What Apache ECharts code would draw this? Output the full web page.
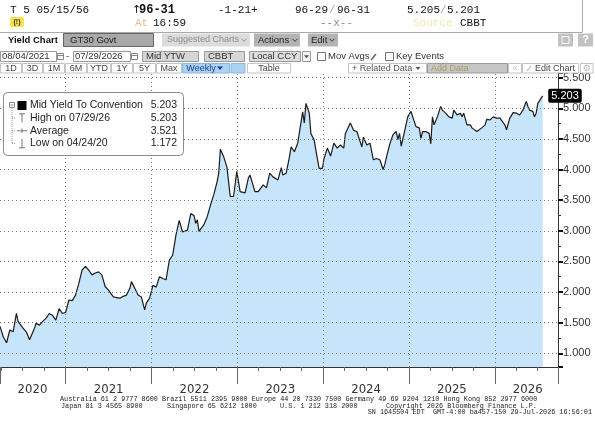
<!DOCTYPE html>
<html><head><meta charset="utf-8">
<script src="https://cdn.jsdelivr.net/npm/echarts/dist/echarts.min.js"></script>
<style>html,body{margin:0;padding:0;background:#fff}#c{width:595px;height:428px}</style>
</head><body><div id="c"></div>
<script>
// ---------- data ----------
const startDate = '2020-03-27';   // first weekly observation
const axisEndDate = '2026-09-27';  // right end of the time axis
const weekIdx = [0,2,4,6,8,10,11,14,16,18,19,21,22,24,26,28,30,32,34,36,38,40,42,44,46,48,50,52,54,56,58,60,62,64,66,69,71,73,75,77,79,80,82,84,86,88,89,91,93,95,97,99,101,103,105,107,109,111,114,116,118,119,120,121,124,126,128,130,132,133,134,136,137,138,140,142,144,146,147,149,151,152,153,155,157,158,160,162,164,166,169,171,172,174,176,177,179,181,184,185,186,188,189,191,192,194,196,197,199,201,203,205,207,209,210,213,215,217,218,220,221,223,225,227,229,231,233,234,235,237,239,241,242,243,244,245,246,248,250,251,253,255,256,257,259,261,262,263,264,266,268,269,271,273,275,276,278,280,281,282,284,286,287,290,291,293,295,296,298,300,302,304,305,307,308,310,312,314,316,318,320,321,322,324,325,326,327,328,330];
const yieldVals = [1.44,1.27,1.172,1.38,1.35,1.65,1.52,1.41,1.35,1.22,1.25,1.41,1.49,1.46,1.52,1.57,1.65,1.62,1.54,1.73,1.65,1.67,1.87,1.86,1.95,2.14,2.36,2.42,2.36,2.28,2.31,2.33,2.28,2.09,2.03,1.92,1.91,1.90,1.93,1.95,2.06,2.17,2.06,1.95,1.92,1.71,1.82,1.90,2.11,2.08,2.25,2.22,2.20,2.52,2.60,2.93,3.17,2.98,3.01,3.28,3.25,3.12,3.18,2.99,3.10,3.23,3.42,3.59,3.80,3.94,4.33,4.21,4.24,4.04,3.56,3.56,3.97,3.64,3.64,3.62,3.86,3.91,3.88,3.64,3.64,3.62,3.75,3.70,3.94,3.88,3.83,4.03,3.91,3.94,4.21,4.37,4.29,4.43,4.94,4.76,5.08,4.92,4.59,4.48,4.32,4.02,4.02,4.18,4.35,4.22,4.43,4.35,4.40,4.35,4.59,4.76,4.64,4.62,4.64,4.37,4.53,4.40,4.43,4.16,4.18,4.16,4.00,4.08,4.20,4.41,4.57,4.62,4.49,4.59,4.38,4.35,4.62,4.86,4.95,4.86,4.70,4.68,4.51,4.62,4.62,4.59,4.42,4.86,4.73,4.86,5.03,4.97,4.92,4.86,4.84,4.97,4.89,4.92,4.86,4.92,4.73,4.73,4.68,4.62,4.62,4.68,4.73,4.82,4.81,4.86,4.84,4.84,4.86,4.73,4.65,4.84,4.93,4.92,4.89,4.97,5.11,5.03,4.97,4.95,4.86,4.92,5.08,5.08,5.203];
const yearLabels = ['2020','2021','2022','2023','2024','2025','2026'];
const yearGrid = [2021,2022,2023,2024,2025,2026];
const yTicks = [1.0,1.5,2.0,2.5,3.0,3.5,4.0,4.5,5.0,5.5];
const yMin = 0.776, yMax = 5.576;
const statLabels = ['Mid Yield To Convention','High on 07/29/26','Average','Low on 04/24/20'];
const statValues = ['5.203','5.203','3.521','1.172'];
const lastLabel = '5.203';

// ---------- helpers ----------
function toYear(d){const y=d.getUTCFullYear();const s=Date.UTC(y,0,1),e=Date.UTC(y+1,0,1);return y+(d.getTime()-s)/(e-s);}
function parseD(s){const p=s.split('-').map(Number);return new Date(Date.UTC(p[0],p[1]-1,p[2]));}
const t0 = parseD(startDate).getTime();
const seriesData = weekIdx.map((w,i)=>[toYear(new Date(t0+w*7*864e5)), yieldVals[i]]);
const xMin = toYear(parseD(startDate)), xMax = toYear(parseD(axisEndDate));

const SANS='"Liberation Sans", Arial, sans-serif';
const MONO='"Liberation Mono", "DejaVu Sans Mono", monospace';
const G=[];
function rect(x,y,w,h,fill,stroke,r){G.push({type:'rect',z:100,shape:{x:x,y:y,width:w,height:h,r:r||0},style:{fill:fill||'none',stroke:stroke||'none',lineWidth:1}});}
function txt(x,y,t,fill,font,align){G.push({type:'text',z:101,x:x,y:y,style:{text:t,fill:fill||'#222',font:font||('10px '+SANS),align:align||'left',textAlign:align||'left',verticalAlign:'middle',textVerticalAlign:'middle'}});}
function line(x1,y1,x2,y2,stroke,dash,w){G.push({type:'line',z:101,shape:{x1:x1,y1:y1,x2:x2,y2:y2},style:{stroke:stroke,lineWidth:w||1,lineDash:dash||null}});}
function chev(x,y,c){G.push({type:'polyline',z:101,shape:{points:[[x-2.5,y-1.2],[x,y+1.3],[x+2.5,y-1.2]]},style:{stroke:c,lineWidth:1,fill:'none'}});}
function tri(x,y,c){G.push({type:'polygon',z:101,shape:{points:[[x-2.5,y-1.5],[x+2.5,y-1.5],[x,y+1.5]]},style:{fill:c}});}

// header rows 1-2
line(0,32.5,582,32.5,'#aaa');
line(582.5,0,582.5,32.5,'#aaa');
txt(10,10,'T 5 05/15/56','#111','11px '+MONO);
txt(132,10,'\u2191','#111','11px "DejaVu Sans", sans-serif');
txt(139,10,'96-31','#111','bold 12px '+MONO);
txt(218,10,'-1-21+','#111','11px '+MONO);
txt(295,10,'96-29','#111','11px '+MONO);
txt(329,10,'/','#aaa','11px '+MONO);
txt(337,10,'96-31','#111','11px '+MONO);
txt(407,10,'5.205','#111','11px '+MONO);
txt(440,10,'/','#aaa','11px '+MONO);
txt(447,10,'5.201','#111','11px '+MONO);
rect(10,17,14,10,'#f3e24c',null,2);
txt(17,22.3,'(!)','#333','bold 7px '+SANS,'center');
txt(135,23,'At','#f2b98a','11px '+MONO);
txt(153,23,'16:59','#111','11px '+MONO);
txt(320,23,'--x--','#888','11px '+MONO);
txt(413,23,'Source','#efe8a8','11px '+MONO);
txt(460,23,'CBBT','#111','11px '+MONO);

// row 3
const R3='9.5px '+SANS;
txt(8,40,'Yield Chart','#111','bold 9.5px '+SANS);
rect(63.5,33.5,90,13,'#a9a9a9','#666');
txt(70,40,'GT30 Govt','#222',R3);
rect(162,33.5,88,13,'#dcdcdc');
txt(167,40,'Suggested Charts','#8c8c8c','9px '+SANS);
chev(244,40,'#8c8c8c');
rect(254,33.5,46,13,'#b3b3b3');
txt(258,40,'Actions','#222',R3);
chev(295,40,'#333');
rect(308,33.5,30,13,'#b3b3b3');
txt(311,40,'Edit','#222',R3);
chev(332,40,'#333');
rect(558,33.5,15,13,'#c2c2c2');
rect(562,36.5,7,7,'none','#fff');
rect(578,33.5,15,13,'#c2c2c2');
txt(585.5,40,'?','#fff','bold 11px '+SANS,'center');

// row 4
const R4='9.5px '+SANS;
rect(0.5,51.5,56,10,'#fff','#999'); txt(2,56.8,'08/04/2021','#333',R4);
rect(57.5,53.5,6,6,'#fff','#888'); line(58,55.5,63,55.5,'#888');
txt(66,56.8,'-','#333',R4);
rect(73.5,51.5,57,10,'#fff','#999'); txt(75,56.8,'07/29/2026','#333',R4);
rect(131.5,53.5,6,6,'#fff','#888'); line(132,55.5,137,55.5,'#888');
rect(142.5,51.5,56,10,'#d6d6d6','#999'); txt(146,56.8,'Mid YTW','#333',R4);
rect(204.5,51.5,40,10,'#d6d6d6','#999'); txt(208,56.8,'CBBT','#333',R4);
rect(249.5,51.5,51,10,'#dedede','#999'); txt(252,56.8,'Local CCY','#333',R4);
rect(302.5,51.5,8,10,'#f2f2f2','#999'); tri(306.5,56.8,'#555');
rect(317.5,52.5,8,8,'#fff','#777'); txt(328,56.8,'Mov Avgs','#333',R4);
line(371,60,376,54,'#666',null,1.5);
rect(385.5,52.5,8,8,'#fff','#777'); txt(396,56.8,'Key Events','#333',R4);

// row 5
const R5='9px '+SANS;
const btn=['1D','3D','1M','6M','YTD','1Y','5Y','Max'];
const bx=[0,22,43,65,87,111,133,156,182];
btn.forEach((b,i)=>{rect(bx[i]+0.5,63.5,bx[i+1]-bx[i]-1,9.5,'#fff','#c4c4c4');txt((bx[i]+bx[i+1])/2,68.4,b,'#444',R5,'center');});
rect(182.5,63.5,47,9.5,'#a9d2f3','#8fb4d6'); txt(201,68.4,'Weekly','#1c3f86',R5,'center');
G.push({type:'polygon',z:101,shape:{points:[[217,66.5],[223,66.5],[220,70]]},style:{fill:'#1c3f86'}});
rect(231,63.5,14,9.5,'#a9d2f3','#8fb4d6');
rect(247.5,63.5,43,9.5,'#fff','#c4c4c4'); txt(269,68.4,'Table','#444',R5,'center');
rect(348.5,63.5,78,9.5,'#fff','#c4c4c4'); txt(352,68.4,'+ Related Data','#555',R5); tri(418,68.4,'#555');
rect(427.5,63.5,80,9.5,'#c6c6c6','#999'); txt(431,68.4,'Add Data','#a89b62',R5);
rect(508.5,63.5,13,9.5,'#fff','#c4c4c4'); txt(515,68.4,'\u00ab','#bbb',R5,'center');
rect(522.5,63.5,56,9.5,'#fff','#c4c4c4'); line(527,71,531,66,'#bbb',null,1.2); txt(535,68.4,'Edit Chart','#444',R5);
rect(580.5,63.5,12.5,9.5,'#fff','#c4c4c4'); txt(586.7,68.6,'\u2699','#bbb','9px "DejaVu Sans", sans-serif','center');

// info box
rect(3.5,92.5,180,63,'#fff','#8c8c8c',4);
const rows=[105.5,118,130.8,143.6];
rect(9.5,102.5,5,5,'#fff','#888'); line(10.5,105,13.5,105,'#888');
line(12,108,12,143.6,'#999',[1,1]);
[1,2,3].forEach(i=>line(12,rows[i],16,rows[i],'#999',[1,1]));
rect(17.5,101,9,9,'#000');
line(19,113.8,25,113.8,'#777'); line(22,113.8,22,122.5,'#777');
line(17,130.8,27,130.8,'#777'); line(22,128.5,22,133,'#777');
line(22,139,22,147.8,'#777'); line(19,147.8,25,147.8,'#777');
statLabels.forEach((s,i)=>{txt(30,rows[i],s,'#222','10.5px '+SANS);txt(177,rows[i],statValues[i],'#222','10.5px '+SANS,'right');});

// footer
const F='6.8px '+MONO;
txt(60,399.5,'Australia 61 2 9777 8600 Brazil 5511 2395 9000 Europe 44 20 7330 7500 Germany 49 69 9204 1210 Hong Kong 852 2977 6000','#222',F);
txt(61,406,'Japan 81 3 4565 8900','#222',F);
txt(167,406,'Singapore 65 6212 1000','#222',F);
txt(280,406,'U.S. 1 212 318 2000','#222',F);
txt(386,406,'Copyright 2026 Bloomberg Finance L.P.','#222',F);
txt(592,412.5,'SN 1645504 EDT  GMT-4:00 ba457-150 29-Jul-2026 16:56:01','#222',F,'right');

// ---------- chart ----------
const chart = echarts.init(document.getElementById('c'));
const YF='"Liberation Sans Narrow", "DejaVu Sans Condensed", "Liberation Sans", sans-serif';
const gridLineStyle={color:'#7a7a7a',width:1,type:[1,3]};
chart.setOption({
  animation:false,
  backgroundColor:'#fff',
  grid:{left:0,right:37,top:73,bottom:61,containLabel:false},
  xAxis:{
    type:'value', min:xMin, max:xMax, splitNumber:6,
    axisLine:{show:true,lineStyle:{color:'#333',width:1}},
    axisTick:{show:true,length:17,lineStyle:{color:'#666',width:1}},
    minorTick:{show:true,splitNumber:4,length:4,lineStyle:{color:'#666',width:1}},
    splitLine:{show:false},
    axisLabel:{
      show:true, margin:16, showMinLabel:true, showMaxLabel:false, color:'#333',
      fontSize:13, fontFamily:YF,
      formatter:function(v){
        const yr=Math.round(v);
        if(Math.abs(v-yr)<1e-6){const l=yearLabels[yr-2020]; if(!l) return ''; return yr===2026?'{e|'+l+'}':'{a|'+l+'}';}
        if(v<2021) return '{b|'+yearLabels[0]+'}';
        return '';
      },
      rich:{
        a:{padding:[0,0,0,86],fontSize:13,fontFamily:YF,color:'#333'},
        b:{padding:[0,0,0,65],fontSize:13,fontFamily:YF,color:'#333'},
        e:{padding:[0,0,0,66],fontSize:13,fontFamily:YF,color:'#333'}
      }
    }
  },
  yAxis:{
    type:'value', position:'right', min:yMin, max:yMax, splitNumber:10, scale:true,
    axisLine:{show:true,lineStyle:{color:'#333',width:1}},
    axisTick:{show:true,length:5,lineStyle:{color:'#111',width:2}},
    minorTick:{show:true,splitNumber:2,length:3,lineStyle:{color:'#333',width:1}},
    splitLine:{show:false},
    axisLabel:{
      show:true, margin:5, color:'#333', fontSize:11, fontFamily:SANS,
      showMinLabel:false, showMaxLabel:false,
      formatter:function(v){return Math.abs(v*2-Math.round(v*2))<1e-6? v.toFixed(3):'';}
    }
  },
  series:[{
    type:'line', data:seriesData, showSymbol:false, symbol:'none',
    lineStyle:{color:'#1b1b1b',width:1.2},
    areaStyle:{color:'#c6e4fa',opacity:1},
    markLine:{
      silent:true, symbol:['none','none'], animation:false,
      label:{show:false},
      lineStyle:gridLineStyle,
      data: yTicks.map(v=>({yAxis:v})).concat(yearGrid.map(v=>({xAxis:v})))
    },
    markPoint:{
      symbol:'circle', symbolSize:1, silent:true,
      itemStyle:{color:'rgba(0,0,0,0)'},
      label:{show:true,position:'right',distance:5,formatter:lastLabel,color:'#fff',backgroundColor:'#000',
        padding:[2,3,1,3],borderRadius:2,fontSize:11,fontFamily:SANS},
      data:[{coord:seriesData[seriesData.length-1]}]
    }
  }],
  graphic:{elements:G}
});
</script>
</body></html>
